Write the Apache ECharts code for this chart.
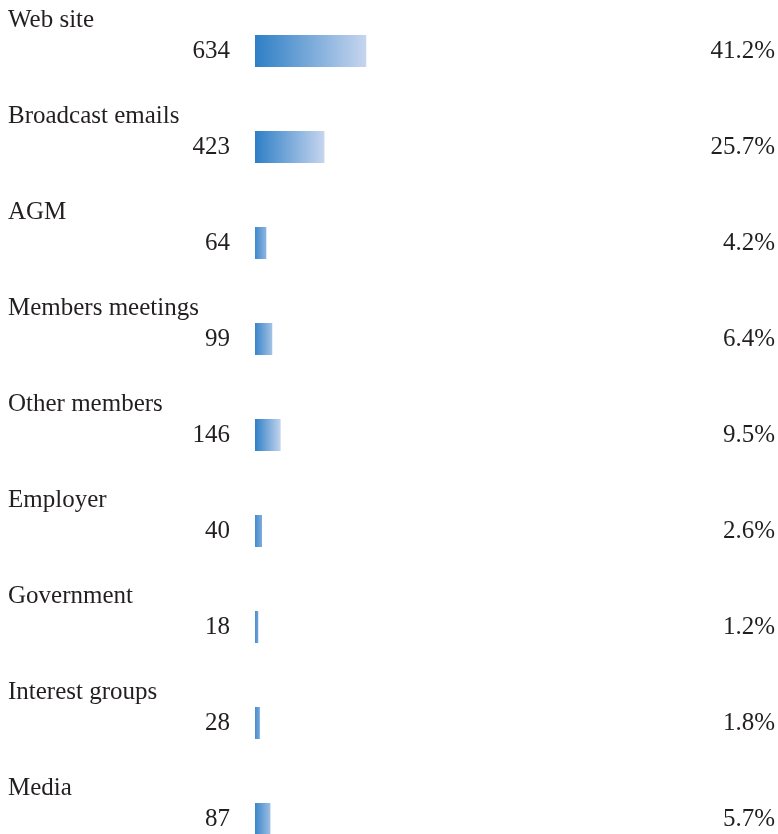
<!DOCTYPE html>
<html>
<head>
<meta charset="utf-8">
<script src="https://cdn.jsdelivr.net/npm/echarts@6/dist/echarts.min.js"></script>
<style>
  html, body { margin: 0; padding: 0; background: #ffffff; overflow: hidden; }
  #chart { width: 778px; height: 834px; }
</style>
</head>
<body>
<div id="chart"></div>
<script>
// Information sources: responses and share of responses
const categories = ['Web site', 'Broadcast emails', 'AGM', 'Members meetings', 'Other members', 'Employer', 'Government', 'Interest groups', 'Media'];
const counts = [634, 423, 64, 99, 146, 40, 18, 28, 87];
const percents = [41.2, 25.7, 4.2, 6.4, 9.5, 2.6, 1.2, 1.8, 5.7];
const percentLabels = percents.map(p => p.toFixed(1) + '%');

const FONT = 'Liberation Serif';
const TEXT = '#231f20';
const SIZE = 25;

const DARK = [46, 127, 198];
const LIGHT = [198, 213, 238];
function mix(t) {
  return 'rgb(' + DARK.map((c, i) => Math.round(c + (LIGHT[i] - c) * t)).join(',') + ')';
}
// short bars only show part of the dark-to-light fade
function barFill(p) {
  const t0 = Math.max(0, 0.2 - p / 50);
  const t1 = Math.min(1, 0.35 + p / 15);
  return new echarts.graphic.LinearGradient(0, 0, 1, 0, [
    { offset: 0, color: mix(t0) },
    { offset: 1, color: mix(t1) }
  ]);
}

const chart = echarts.init(document.getElementById('chart'), null, { renderer: 'canvas' });

chart.setOption({
  animation: false,
  backgroundColor: '#ffffff',
  // rows are 96px apart; the last row runs to the bottom edge
  grid: { left: 255, top: 3, width: 270, height: 864, containLabel: false, outerBoundsMode: 'none' },
  xAxis: {
    type: 'value', min: 0, max: 100,
    show: false
  },
  yAxis: [
    {
      type: 'category', data: categories, inverse: true,
      axisLine: { show: false }, axisTick: { show: false }, splitLine: { show: false },
      axisLabel: {
        interval: 0, showMinLabel: true, showMaxLabel: true, hideOverlap: false,
        align: 'left', margin: 247,
        fontFamily: FONT, fontSize: SIZE, color: TEXT,
        lineHeight: 62,
        formatter: v => v + '\n '
      }
    },
    {
      type: 'category', data: percentLabels, inverse: true, position: 'right',
      axisLine: { show: false }, axisTick: { show: false }, splitLine: { show: false },
      axisLabel: {
        interval: 0, showMinLabel: true, showMaxLabel: true,
        align: 'right', margin: 250,
        fontFamily: FONT, fontSize: SIZE, color: TEXT
      }
    }
  ],
  series: [{
    type: 'bar',
    data: percents.map(p => ({ value: p, itemStyle: { color: barFill(p) } })),
    barWidth: 32,
    label: {
      show: true, position: 'left', distance: 25,
      fontFamily: FONT, fontSize: SIZE, color: TEXT,
      formatter: p => String(counts[p.dataIndex])
    }
  }]
});
</script>
</body>
</html>
